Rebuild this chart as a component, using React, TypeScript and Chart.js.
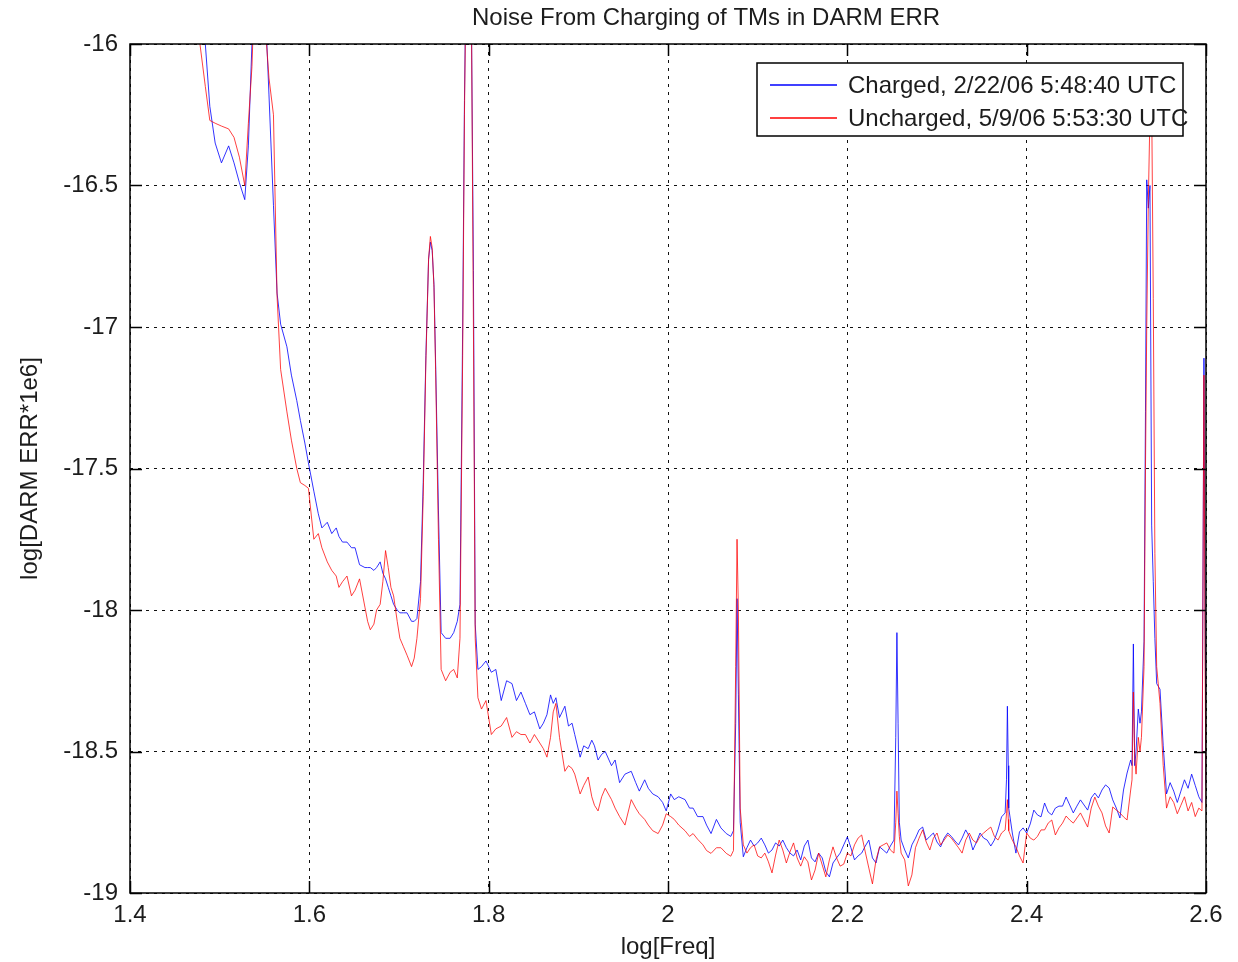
import React, { useEffect, useRef } from "react";
import { Chart, registerables } from "chart.js";

Chart.register(...registerables);

const titleText = "Noise From Charging of TMs in DARM ERR";
const xTitle = "log[Freq]";
const yTitle = "log[DARM ERR*1e6]";
const legendLabels = ["Charged, 2/22/06 5:48:40 UTC", "Uncharged, 5/9/06 5:53:30 UTC"];

const xTicks = [1.4, 1.6, 1.8, 2.0, 2.2, 2.4, 2.6];
const yTicks = [-19, -18.5, -18, -17.5, -17, -16.5, -16];

const logFreq = [
  1.470, 1.478, 1.484, 1.489, 1.495, 1.502, 1.510, 1.516, 1.522, 1.528,
  1.532, 1.536, 1.540, 1.545, 1.550, 1.555, 1.560, 1.564, 1.568, 1.575,
  1.580, 1.586, 1.590, 1.595, 1.599, 1.605, 1.610, 1.614, 1.620, 1.625,
  1.630, 1.633, 1.637, 1.642, 1.647, 1.651, 1.656, 1.662, 1.665, 1.668,
  1.672, 1.675, 1.679, 1.682, 1.685, 1.688, 1.691, 1.694, 1.698, 1.701,
  1.705, 1.709, 1.714, 1.717, 1.720, 1.724,
  1.727, 1.730, 1.733, 1.735, 1.737, 1.739, 1.741, 1.744, 1.747, 1.752,
  1.757, 1.761, 1.765, 1.768, 1.771, 1.773, 1.775, 1.777, 1.779, 1.781,
  1.783, 1.785, 1.788,
  1.792, 1.797, 1.803, 1.808, 1.814, 1.820, 1.826, 1.831, 1.836, 1.841,
  1.846, 1.851, 1.857, 1.861, 1.865, 1.869, 1.872, 1.875, 1.879, 1.885,
  1.889, 1.893, 1.896, 1.902, 1.906, 1.911, 1.915, 1.918, 1.922, 1.926,
  1.930, 1.937, 1.941, 1.946, 1.952, 1.959, 1.964, 1.968, 1.974, 1.978,
  1.983, 1.989, 1.994, 1.998, 2.003, 2.007, 2.012, 2.019, 2.024, 2.028,
  2.033, 2.039, 2.043, 2.048, 2.054, 2.059, 2.065, 2.070, 2.073,
  2.0755, 2.0770, 2.0785, 2.0805,
  2.084, 2.088, 2.092, 2.096, 2.100, 2.104, 2.108, 2.112, 2.116, 2.120,
  2.124, 2.128, 2.132, 2.136, 2.140, 2.144, 2.148, 2.152, 2.156, 2.160,
  2.164, 2.168, 2.172, 2.176, 2.180, 2.184, 2.188, 2.192, 2.196, 2.200,
  2.204, 2.208, 2.212, 2.216, 2.220, 2.224, 2.228, 2.232, 2.236, 2.240,
  2.244, 2.248, 2.252,
  2.2540, 2.2553, 2.2566, 2.2580,
  2.260, 2.264, 2.268, 2.272, 2.276, 2.280, 2.284, 2.288, 2.292, 2.296,
  2.300, 2.304, 2.308, 2.312, 2.316, 2.320, 2.324, 2.328, 2.332, 2.336,
  2.340, 2.344, 2.348, 2.352, 2.356, 2.360, 2.364, 2.368, 2.372, 2.376,
  2.3775, 2.3785, 2.3795,
  2.380, 2.384, 2.388, 2.392, 2.396, 2.400, 2.404, 2.408, 2.412, 2.416,
  2.420, 2.424, 2.428, 2.432, 2.436, 2.440, 2.444, 2.448, 2.452, 2.456,
  2.460, 2.464, 2.468, 2.472, 2.476, 2.480, 2.484, 2.488, 2.492, 2.496,
  2.500, 2.504, 2.508, 2.512, 2.516,
  2.5175, 2.519, 2.5205, 2.522, 2.5245, 2.5264, 2.528, 2.5309, 2.5325, 2.5339,
  2.5357, 2.5375, 2.5394, 2.5412, 2.543, 2.545, 2.5487, 2.5523, 2.556, 2.560,
  2.564, 2.568, 2.572, 2.576, 2.580, 2.584, 2.588, 2.592, 2.5955, 2.5977,
  2.5990, 2.600,
];

const charged = [
  -15.70, -15.90, -16.00, -16.22, -16.35, -16.42, -16.36, -16.42, -16.49, -16.55,
  -16.36, -16.00, -15.60, -15.50, -15.80, -16.18, -16.57, -16.88, -16.99, -17.07,
  -17.17, -17.26, -17.33, -17.41, -17.48, -17.58, -17.66, -17.71, -17.69, -17.73,
  -17.71, -17.74, -17.76, -17.76, -17.78, -17.78, -17.84, -17.85, -17.85, -17.85,
  -17.86, -17.85, -17.83, -17.87, -17.89, -17.92, -17.95, -17.98, -18.00, -18.01,
  -18.01, -18.01, -18.04, -18.04, -18.03, -17.90,
  -17.55, -17.10, -16.76, -16.70, -16.73, -16.85, -17.15, -17.65, -18.08, -18.10,
  -18.10, -18.08, -18.04, -17.98, -17.00, -16.20, -15.70, -15.50, -15.60, -16.00,
  -16.80, -18.05, -18.21,
  -18.20, -18.18, -18.22, -18.21, -18.32, -18.25, -18.26, -18.32, -18.29, -18.33,
  -18.37, -18.36, -18.42, -18.40, -18.37, -18.30, -18.33, -18.31, -18.38, -18.34,
  -18.41, -18.40, -18.44, -18.52, -18.48, -18.49, -18.46, -18.48, -18.53, -18.51,
  -18.50, -18.55, -18.53, -18.61, -18.58, -18.57, -18.61, -18.64, -18.60, -18.63,
  -18.65, -18.66, -18.68, -18.71, -18.65, -18.67, -18.66, -18.67, -18.70, -18.70,
  -18.73, -18.73, -18.76, -18.79, -18.74, -18.77, -18.79, -18.80, -18.78,
  -18.40, -17.96, -18.30, -18.75,
  -18.872, -18.840, -18.813, -18.834, -18.823, -18.806, -18.830, -18.859, -18.848, -18.823,
  -18.834, -18.813, -18.840, -18.859, -18.869, -18.848, -18.883, -18.834, -18.813, -18.876,
  -18.890, -18.859, -18.876, -18.925, -18.943, -18.894, -18.876, -18.859, -18.830, -18.802,
  -18.840, -18.883, -18.869, -18.859, -18.834, -18.813, -18.876, -18.894, -18.837, -18.848,
  -18.859, -18.834, -18.813,
  -18.45, -18.08, -18.40, -18.75,
  -18.813, -18.848, -18.876, -18.830, -18.806, -18.777, -18.767, -18.813, -18.800, -18.788,
  -18.820, -18.837, -18.806, -18.788, -18.800, -18.816, -18.830, -18.806, -18.777, -18.800,
  -18.848, -18.820, -18.788, -18.806, -18.813, -18.834, -18.813, -18.777, -18.731, -18.717,
  -18.60, -18.34, -18.55,
  -18.700, -18.788, -18.859, -18.784, -18.770, -18.788, -18.756, -18.707, -18.724, -18.731,
  -18.682, -18.714, -18.724, -18.700, -18.693, -18.693, -18.661, -18.689, -18.717, -18.693,
  -18.671, -18.689, -18.707, -18.664, -18.647, -18.664, -18.636, -18.618, -18.629, -18.671,
  -18.700, -18.735, -18.636, -18.576, -18.530,
  -18.55, -18.12, -18.55, -18.50, -18.35, -18.40, -18.36, -18.11, -17.30, -16.48,
  -16.58, -16.50, -17.70, -17.90, -18.10, -18.26, -18.28, -18.48, -18.65, -18.61,
  -18.64, -18.68, -18.64, -18.60, -18.63, -18.58, -18.62, -18.66, -18.68, -17.11,
  -18.00, -18.62,
];

const uncharged = [
  -15.75, -16.00, -16.15, -16.27, -16.28, -16.29, -16.30, -16.33, -16.40, -16.50,
  -16.28, -16.08, -15.70, -15.50, -15.90, -16.12, -16.25, -16.89, -17.15, -17.30,
  -17.40, -17.50, -17.55, -17.56, -17.57, -17.75, -17.73, -17.78, -17.83, -17.86,
  -17.88, -17.92, -17.90, -17.88, -17.95, -17.93, -17.89, -17.99, -18.04, -18.07,
  -18.05, -18.00, -17.98, -17.90, -17.79, -17.85, -17.92, -17.95, -18.04, -18.10,
  -18.13, -18.16, -18.20, -18.17, -18.10, -17.96,
  -17.60, -17.12, -16.76, -16.68, -16.72, -16.86, -17.18, -17.75, -18.21, -18.25,
  -18.22, -18.21, -18.24, -18.10, -17.10, -16.25, -15.70, -15.50, -15.60, -16.00,
  -17.00, -18.10, -18.31,
  -18.35, -18.32, -18.44, -18.42, -18.41, -18.38, -18.45, -18.43, -18.44, -18.44,
  -18.47, -18.44, -18.47, -18.49, -18.52, -18.45, -18.36, -18.33, -18.45, -18.57,
  -18.55, -18.56, -18.58, -18.65, -18.62, -18.59, -18.66, -18.69, -18.71, -18.66,
  -18.63, -18.67, -18.70, -18.73, -18.76, -18.67, -18.70, -18.72, -18.74, -18.76,
  -18.78, -18.79, -18.76, -18.72, -18.73, -18.74, -18.76, -18.78, -18.80, -18.79,
  -18.81, -18.83, -18.85, -18.86, -18.84, -18.84, -18.86, -18.87, -18.85,
  -18.20, -17.75, -18.00, -18.70,
  -18.830, -18.859, -18.840, -18.830, -18.869, -18.876, -18.859, -18.890, -18.929, -18.866,
  -18.813, -18.848, -18.894, -18.855, -18.823, -18.876, -18.905, -18.872, -18.890, -18.954,
  -18.919, -18.859, -18.901, -18.943, -18.883, -18.837, -18.876, -18.905, -18.898, -18.859,
  -18.869, -18.830, -18.806, -18.795, -18.855, -18.912, -18.968, -18.883, -18.837, -18.830,
  -18.823, -18.848, -18.859,
  -18.75, -18.64, -18.72, -18.80,
  -18.859, -18.883, -18.975, -18.936, -18.840, -18.806, -18.777, -18.820, -18.848, -18.806,
  -18.788, -18.830, -18.813, -18.795, -18.806, -18.823, -18.840, -18.859, -18.813, -18.788,
  -18.813, -18.823, -18.800, -18.788, -18.777, -18.767, -18.800, -18.813, -18.788, -18.777,
  -18.72, -18.67, -18.74,
  -18.780, -18.813, -18.837, -18.869, -18.894, -18.788, -18.806, -18.813, -18.800, -18.777,
  -18.777, -18.753, -18.742, -18.795, -18.770, -18.753, -18.728, -18.742, -18.753, -18.735,
  -18.717, -18.742, -18.767, -18.700, -18.661, -18.693, -18.717, -18.763, -18.788, -18.696,
  -18.707, -18.717, -18.731, -18.742, -18.636,
  -18.60, -18.29, -18.52, -18.58, -18.45, -18.50, -18.45, -18.20, -17.50, -17.00,
  -16.55, -16.25, -16.20, -16.90, -17.80, -18.20, -18.33, -18.55, -18.70, -18.66,
  -18.68, -18.72, -18.69, -18.66, -18.71, -18.68, -18.73, -18.70, -18.71, -17.17,
  -18.20, -18.70,
];

const BLUE = "rgba(0, 0, 255, 0.8)";
const RED = "rgba(255, 0, 0, 0.75)";
const TEXT = "#1c1c1c";
const FONT = '"Liberation Sans", Arial, Helvetica, sans-serif';

const framePlugin = {
  id: "matlabFrame",
  afterDatasetsDraw(chart: any) {
    const { ctx, chartArea, scales } = chart;
    const { left, right, top, bottom } = chartArea;
    const xs = scales.x;
    const ys = scales.y;
    ctx.save();
    ctx.strokeStyle = "#000";
    ctx.lineWidth = 1.5;
    ctx.strokeRect(left, top, right - left, bottom - top);
    ctx.beginPath();
    xTicks.forEach((v) => {
      const px = Math.round(xs.getPixelForValue(v)) + 0.5;
      ctx.moveTo(px, bottom);
      ctx.lineTo(px, bottom - 12);
      ctx.moveTo(px, top);
      ctx.lineTo(px, top + 12);
    });
    yTicks.forEach((v) => {
      const py = Math.round(ys.getPixelForValue(v)) + 0.5;
      ctx.moveTo(left, py);
      ctx.lineTo(left + 12, py);
      ctx.moveTo(right, py);
      ctx.lineTo(right - 12, py);
    });
    ctx.stroke();

    // title (centred slightly right of the axes centre, as in the reference)
    ctx.fillStyle = TEXT;
    ctx.font = `24px ${FONT}`;
    ctx.textAlign = "center";
    ctx.textBaseline = "middle";
    ctx.fillText(titleText, (left + right) / 2 + 38, top - 26);

    // legend box
    const bw = 426;
    const bh = 73;
    const bx = right - 23 - bw;
    const by = top + 19;
    ctx.fillStyle = "#fff";
    ctx.fillRect(bx, by, bw, bh);
    ctx.lineWidth = 1.5;
    ctx.strokeStyle = "#000";
    ctx.strokeRect(bx, by, bw, bh);
    const rows = [
      { label: legendLabels[0], color: "#0000ff", y: by + 22 },
      { label: legendLabels[1], color: "#ff0000", y: by + 55 },
    ];
    rows.forEach((r) => {
      ctx.beginPath();
      ctx.strokeStyle = r.color;
      ctx.lineWidth = 1.5;
      ctx.moveTo(bx + 13, r.y);
      ctx.lineTo(bx + 80, r.y);
      ctx.stroke();
      ctx.fillStyle = TEXT;
      ctx.font = `24px ${FONT}`;
      ctx.textBaseline = "middle";
      ctx.textAlign = "left";
      ctx.fillText(r.label, bx + 91, r.y + 1);
    });
    ctx.restore();
  },
};

export default function App() {
  const canvasRef = useRef<HTMLCanvasElement | null>(null);

  useEffect(() => {
    const canvas = canvasRef.current;
    if (!canvas) return;
    const chart = new Chart(canvas, {
      type: "line",
      data: {
        datasets: [
          {
            label: legendLabels[0],
            data: logFreq.map((x, i) => ({ x, y: charged[i] })),
            borderColor: BLUE,
            borderWidth: 1,
            pointRadius: 0,
            fill: false,
            tension: 0,
            order: 1,
          },
          {
            label: legendLabels[1],
            data: logFreq.map((x, i) => ({ x, y: uncharged[i] })),
            borderColor: RED,
            borderWidth: 1,
            pointRadius: 0,
            fill: false,
            tension: 0,
            order: 0,
          },
        ],
      },
      options: {
        responsive: false,
        devicePixelRatio: 1,
        animation: false,
        events: [],
        elements: { line: { borderJoinStyle: "round" } },
        layout: { padding: { left: 0, right: 32, top: 44, bottom: 0 } },
        plugins: {
          legend: { display: false },
          tooltip: { enabled: false },
          title: { display: false },
        },
        scales: {
          x: {
            type: "linear",
            min: 1.4,
            max: 2.6,
            afterBuildTicks: (s: any) => {
              s.ticks = xTicks.map((v) => ({ value: v }));
            },
            afterFit: (s: any) => {
              s.height = 69;
            },
            ticks: {
              color: TEXT,
              font: { family: FONT, size: 24 },
              padding: 8,
              maxRotation: 0,
              autoSkip: false,
              callback: (v: any) => String(Number(Number(v).toFixed(2))),
            },
            grid: { color: "#111", lineWidth: 1, drawTicks: false },
            border: { display: false, dash: [3, 5] },
            title: {
              display: true,
              text: xTitle,
              color: TEXT,
              font: { family: FONT, size: 24 },
              padding: { top: 3, bottom: 0 },
            },
          },
          y: {
            type: "linear",
            min: -19,
            max: -16,
            afterBuildTicks: (s: any) => {
              s.ticks = yTicks.map((v) => ({ value: v }));
            },
            afterFit: (s: any) => {
              s.width = 130;
            },
            ticks: {
              color: TEXT,
              font: { family: FONT, size: 24 },
              padding: 12,
              autoSkip: false,
              callback: (v: any) => String(Number(Number(v).toFixed(2))),
            },
            grid: { color: "#111", lineWidth: 1, drawTicks: false },
            border: { display: false, dash: [3, 5] },
            title: {
              display: true,
              text: yTitle,
              color: TEXT,
              font: { family: FONT, size: 24 },
              padding: { top: 16, bottom: 0 },
            },
          },
        },
      },
      plugins: [framePlugin],
    } as any);
    return () => chart.destroy();
  }, []);

  return (
    <div style={{ position: "absolute", left: 0, top: 0, width: 1238, height: 962, background: "#fff" }}>
      <canvas ref={canvasRef} width={1238} height={962} style={{ display: "block" }} />
    </div>
  );
}
